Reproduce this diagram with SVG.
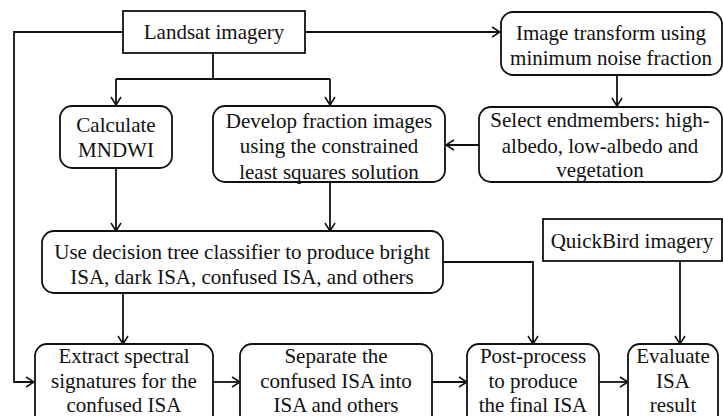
<svg xmlns="http://www.w3.org/2000/svg" width="723" height="416" viewBox="0 0 723 416">
<defs>
<marker id="arr" markerWidth="12" markerHeight="12" refX="10" refY="6" orient="auto" markerUnits="userSpaceOnUse">
<path d="M2,1 L10,6 L2,11" fill="none" stroke="#111" stroke-width="1.5"/>
</marker>
</defs>
<style>
.b{fill:#fff;stroke:#111;stroke-width:1.8}
text{font-family:"Liberation Serif","Times New Roman",serif;font-size:21px;fill:#111;text-anchor:middle}
.c{fill:none;stroke:#111;stroke-width:1.8}
</style>
<rect width="723" height="416" fill="#fff"/>
<g id="connectors">
<path class="c" d="M123,32 H14 V382 H34" marker-end="url(#arr)"/>
<path class="c" d="M305,32 H500" marker-end="url(#arr)"/>
<path class="c" d="M213,53 V79 M116,79 H330"/>
<path class="c" d="M116,79 V105" marker-end="url(#arr)"/>
<path class="c" d="M330,79 V105" marker-end="url(#arr)"/>
<path class="c" d="M617,75 V106" marker-end="url(#arr)"/>
<path class="c" d="M479,145 H446" marker-end="url(#arr)"/>
<path class="c" d="M116,168 V231" marker-end="url(#arr)"/>
<path class="c" d="M330,182 V231" marker-end="url(#arr)"/>
<path class="c" d="M123,293 V344" marker-end="url(#arr)"/>
<path class="c" d="M443,262 H533 V344" marker-end="url(#arr)"/>
<path class="c" d="M680,261 V344" marker-end="url(#arr)"/>
<path class="c" d="M213,382 H240" marker-end="url(#arr)"/>
<path class="c" d="M432,382 H467" marker-end="url(#arr)"/>
<path class="c" d="M599,382 H628" marker-end="url(#arr)"/>
</g>
<g id="landsat">
<rect class="b" x="123" y="11" width="182" height="42"/>
<text x="214" y="39">Landsat imagery</text>
</g>
<g id="mnf">
<rect class="b" x="501" y="12" width="221" height="63" rx="12"/>
<text x="611" y="40">Image transform using</text>
<text x="611" y="65">minimum noise fraction</text>
</g>
<g id="endmembers">
<rect class="b" x="479" y="107" width="243" height="75" rx="12"/>
<text x="600" y="127">Select endmembers: high-</text>
<text x="600" y="153">albedo, low-albedo and</text>
<text x="600" y="177">vegetation</text>
</g>
<g id="mndwi">
<rect class="b" x="60" y="106" width="112" height="62" rx="12"/>
<text x="116" y="132">Calculate</text>
<text x="116" y="157">MNDWI</text>
</g>
<g id="fraction">
<rect class="b" x="213" y="106" width="232" height="76" rx="12"/>
<text x="329" y="128">Develop fraction images</text>
<text x="329" y="153">using the constrained</text>
<text x="329" y="179">least squares solution</text>
</g>
<g id="decision">
<rect class="b" x="42" y="231" width="401" height="62" rx="12"/>
<text x="242" y="259">Use decision tree classifier to produce bright</text>
<text x="242" y="284">ISA, dark ISA, confused ISA, and others</text>
</g>
<g id="quickbird">
<rect class="b" x="543" y="219" width="179" height="42"/>
<text x="632" y="248">QuickBird imagery</text>
</g>
<g id="extract">
<rect class="b" x="35" y="344" width="178" height="90" rx="12"/>
<text x="124" y="363">Extract spectral</text>
<text x="124" y="388">signatures for the</text>
<text x="124" y="412">confused ISA</text>
</g>
<g id="separate">
<rect class="b" x="240" y="344" width="192" height="90" rx="12"/>
<text x="336" y="363">Separate the</text>
<text x="336" y="388">confused ISA into</text>
<text x="336" y="412">ISA and others</text>
</g>
<g id="postprocess">
<rect class="b" x="467" y="344" width="132" height="90" rx="12"/>
<text x="533" y="363">Post-process</text>
<text x="533" y="388">to produce</text>
<text x="533" y="412">the final ISA</text>
</g>
<g id="evaluate">
<rect class="b" x="628" y="344" width="90" height="90" rx="12"/>
<text x="673" y="363">Evaluate</text>
<text x="673" y="388">ISA</text>
<text x="673" y="412">result</text>
</g>
</svg>
